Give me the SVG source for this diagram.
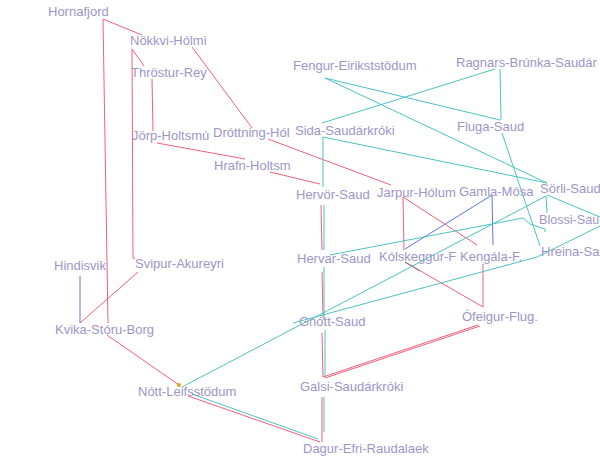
<svg xmlns="http://www.w3.org/2000/svg" width="600" height="460" viewBox="0 0 600 460">
<style>
text{font-family:"Liberation Sans",Arial,sans-serif;font-size:13px;fill:#9d95c8}
.r{stroke:#f0607c;stroke-width:1;fill:none}
.t{stroke:#4cc2c2;stroke-width:1;fill:none}
.b{stroke:#5a78e0;stroke-width:1;fill:none}
</style>
<rect width="600" height="460" fill="#ffffff"/>
<g id="connectors">
<line class="r" x1="103" y1="19" x2="142" y2="35"/>
<line class="r" x1="103" y1="19" x2="108" y2="323"/>
<line class="r" x1="132" y1="49" x2="144" y2="66"/>
<polyline class="r" points="132,49 133,258 135,259"/>
<line class="r" x1="192" y1="47" x2="252" y2="128"/>
<line class="r" x1="152" y1="79" x2="153" y2="131"/>
<line class="r" x1="157" y1="143" x2="245" y2="159"/>
<line class="r" x1="268" y1="139" x2="391" y2="185"/>
<line class="r" x1="270" y1="172" x2="320" y2="184"/>
<line class="r" x1="321" y1="205" x2="322" y2="250"/>
<line class="t" x1="324" y1="205" x2="324" y2="250"/>
<line class="r" x1="322" y1="272" x2="323" y2="318"/>
<line class="t" x1="324" y1="267" x2="324" y2="320"/>
<line class="r" x1="322" y1="333" x2="323" y2="377"/>
<line class="t" x1="325" y1="330" x2="325" y2="377"/>
<line class="r" x1="478" y1="325" x2="323" y2="377"/>
<line class="r" x1="480" y1="326" x2="325" y2="378"/>
<line class="r" x1="322" y1="397" x2="322" y2="442"/>
<line class="t" x1="324" y1="397" x2="324" y2="432"/>
<line class="r" x1="188" y1="396" x2="320" y2="442"/>
<line class="t" x1="192" y1="394" x2="318" y2="439"/>
<line class="r" x1="107" y1="335" x2="179" y2="385"/>
<line class="r" x1="138" y1="272" x2="80" y2="323"/>
<line class="r" x1="403" y1="197" x2="404" y2="250"/>
<line class="r" x1="403" y1="197" x2="477" y2="245"/>
<line class="r" x1="405" y1="262" x2="483" y2="307"/>
<line x1="405" y1="262" x2="420" y2="271" stroke="#806080" stroke-width="1"/>
<line class="r" x1="483" y1="264" x2="483" y2="307"/>
<line class="b" x1="80" y1="276" x2="80" y2="323"/>
<line class="b" x1="492" y1="195" x2="405" y2="249"/>
<line class="b" x1="492" y1="195" x2="493" y2="245"/>
<line class="t" x1="325" y1="78" x2="500" y2="120"/>
<line class="t" x1="325" y1="78" x2="547" y2="183"/>
<line class="t" x1="495" y1="69" x2="322" y2="123"/>
<line class="t" x1="500" y1="69" x2="501" y2="120"/>
<line class="t" x1="323" y1="137" x2="323" y2="187"/>
<line class="t" x1="323" y1="137" x2="547" y2="183"/>
<line class="t" x1="502" y1="133" x2="540" y2="246"/>
<line class="t" x1="546" y1="196" x2="547" y2="213"/>
<line class="t" x1="546" y1="196" x2="182" y2="387"/>
<line class="t" x1="547" y1="195" x2="600" y2="217"/>
<polyline class="t" points="330,255 523,218 530,224 545,229 545,232"/>
<polyline class="t" points="293,323 537,257 600,226"/>
<circle cx="179" cy="385" r="2" fill="#e8a020"/>
</g>
<g id="Hornafjord"><text x="48" y="16">Hornafjord</text></g>
<g id="Nokkvi-Holmi"><text x="130" y="45">Nökkvi-Hólmi</text></g>
<g id="Throstur-Rey"><text x="131" y="77">Thröstur-Rey</text></g>
<g id="Jorp-Holtsmu"><text x="132" y="140">Jörp-Holtsmú</text></g>
<g id="Drottning-Hol"><text x="213" y="137">Dróttning-Hól</text></g>
<g id="Hrafn-Holtsm"><text x="214" y="170">Hrafn-Holtsm</text></g>
<g id="Fengur-Eirikststodum"><text x="293" y="70">Fengur-Eirikststödum</text></g>
<g id="Ragnars-Brunka-Saudar"><text x="456" y="67">Ragnars-Brúnka-Saudár</text></g>
<g id="Sida-Saudarkroki"><text x="295" y="135">Sida-Saudárkróki</text></g>
<g id="Fluga-Saud"><text x="457" y="131">Fluga-Saud</text></g>
<g id="Hervor-Saud"><text x="296" y="199">Hervör-Saud</text></g>
<g id="Jarpur-Holum"><text x="377" y="197">Jarpur-Hólum</text></g>
<g id="Gamla-Mosa"><text x="459" y="196">Gamla-Mósa</text></g>
<g id="Sorli-Saud"><text x="540" y="193">Sörli-Saud</text></g>
<g id="Blossi-Sau"><text x="539" y="224" style="font-size:12.6px">Blossi-Sau</text></g>
<g id="Hreina-Sa"><text x="541" y="256">Hreina-Sa</text></g>
<g id="Hervar-Saud"><text x="297" y="263">Hervar-Saud</text></g>
<g id="Kolskeggur-F"><text x="379" y="261">Kólskeggur-F</text></g>
<g id="Kengala-F"><text x="460" y="261">Kengála-F.</text></g>
<g id="Hindisvik"><text x="54" y="270">Hindisvik</text></g>
<g id="Svipur-Akureyri"><text x="135" y="268">Svipur-Akureyri</text></g>
<g id="Kvika-Storu-Borg"><text x="55" y="334">Kvika-Stóru-Borg</text></g>
<g id="Gnott-Saud"><text x="299" y="326">Gnótt-Saud</text></g>
<g id="Ofeigur-Flug"><text x="462" y="321">Ófeigur-Flug.</text></g>
<g id="Nott-Leifsstodum"><text x="138" y="396">Nótt-Leifsstödum</text></g>
<g id="Galsi-Saudarkroki"><text x="300" y="391">Galsi-Saudárkróki</text></g>
<g id="Dagur-Efri-Raudalaek"><text x="303" y="453">Dagur-Efri-Raudalaek</text></g>
</svg>
